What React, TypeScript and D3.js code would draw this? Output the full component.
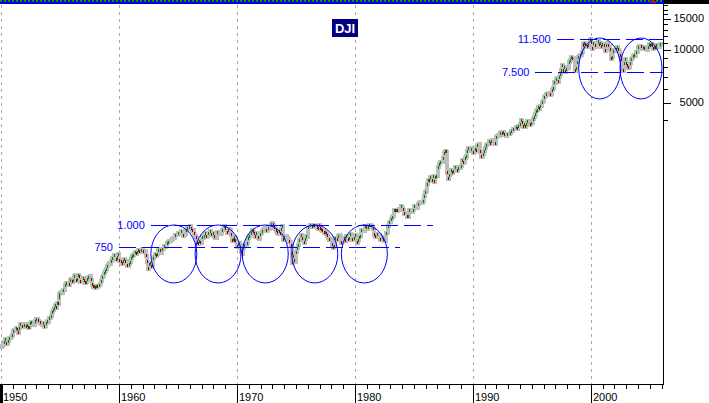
import React from "react";
import * as d3 from "d3";

// Monthly closes of the Dow Jones Industrial Average, by decade (Jan..Dec per year)
const dji1950s: number[][] = [
  [201.8, 203.4, 206.1, 214.3, 223.4, 209.1, 209.4, 216.9, 226.4, 225.0, 227.6, 235.4],
  [248.8, 252.1, 247.9, 259.1, 250.6, 242.6, 257.9, 270.3, 271.2, 262.4, 261.3, 269.2],
  [270.7, 260.1, 269.5, 257.6, 262.9, 274.3, 279.6, 275.0, 270.6, 269.2, 283.7, 291.9],
  [289.8, 284.3, 279.9, 274.8, 272.3, 268.3, 275.4, 261.2, 264.0, 276.3, 281.4, 280.9],
  [292.4, 294.5, 303.5, 319.3, 327.5, 333.5, 347.9, 335.8, 360.5, 352.1, 386.8, 404.4],
  [408.8, 411.9, 409.7, 425.7, 424.9, 451.4, 465.9, 468.2, 466.6, 454.9, 483.3, 488.4],
  [470.7, 483.7, 511.8, 516.1, 478.1, 492.8, 517.8, 502.0, 475.3, 479.9, 472.8, 499.5],
  [479.2, 464.6, 474.5, 494.4, 504.9, 503.3, 508.5, 484.4, 456.3, 441.0, 449.9, 435.7],
  [450.0, 439.9, 446.8, 455.9, 462.7, 478.2, 502.0, 508.6, 532.1, 543.2, 557.5, 583.7],
  [594.0, 603.5, 601.7, 623.8, 643.8, 643.6, 674.9, 664.4, 631.7, 646.6, 659.2, 679.4],
];
const dji1960s: number[][] = [
  [622.6, 630.1, 616.6, 601.7, 625.5, 640.6, 616.7, 626.0, 580.1, 580.4, 597.2, 615.9],
  [648.2, 662.1, 676.6, 678.7, 696.7, 684.0, 705.4, 719.9, 701.2, 703.9, 721.6, 731.1],
  [700.0, 708.1, 707.0, 665.3, 613.4, 561.3, 597.9, 609.2, 579.0, 589.8, 649.3, 652.1],
  [682.9, 662.9, 682.5, 717.7, 727.0, 706.9, 695.4, 729.3, 732.8, 755.2, 750.5, 763.0],
  [785.3, 800.1, 813.3, 810.8, 820.6, 831.5, 841.1, 838.5, 875.4, 873.1, 875.4, 874.1],
  [902.9, 903.5, 889.1, 922.3, 918.0, 868.0, 881.7, 893.1, 930.6, 960.8, 946.7, 969.3],
  [983.5, 951.9, 924.8, 933.7, 884.1, 870.1, 847.4, 788.4, 774.2, 807.1, 791.6, 785.7],
  [849.9, 839.4, 866.0, 897.1, 852.6, 860.3, 904.2, 901.3, 926.7, 879.7, 875.8, 905.1],
  [855.5, 840.5, 840.7, 912.2, 899.0, 897.8, 883.0, 896.0, 935.8, 952.4, 985.1, 943.8],
  [946.1, 905.2, 935.5, 950.2, 937.6, 873.2, 815.5, 836.7, 813.1, 856.0, 812.3, 800.4],
];
const dji1970s: number[][] = [
  [744.1, 777.6, 785.6, 736.1, 700.4, 683.5, 734.1, 764.6, 760.7, 755.6, 794.1, 838.9],
  [868.5, 878.8, 904.4, 941.8, 907.8, 891.1, 858.4, 898.1, 887.2, 839.0, 831.3, 890.2],
  [902.2, 928.1, 940.7, 954.2, 960.7, 929.0, 924.7, 963.7, 953.3, 955.5, 1018.2, 1020.0],
  [999.0, 955.1, 951.0, 921.4, 901.4, 891.7, 926.4, 887.6, 947.1, 987.1, 822.3, 850.9],
  [855.6, 860.5, 846.7, 836.8, 802.2, 802.4, 757.4, 678.6, 607.9, 665.5, 618.7, 616.2],
  [703.7, 739.1, 768.2, 821.3, 832.3, 879.0, 831.5, 835.3, 793.9, 836.0, 860.7, 852.4],
  [975.3, 972.6, 999.5, 996.9, 975.2, 1002.8, 984.6, 973.7, 990.2, 964.9, 947.2, 1004.7],
  [954.4, 936.4, 919.1, 926.9, 898.7, 916.3, 890.1, 861.5, 847.1, 818.4, 829.7, 831.2],
  [769.9, 742.1, 757.4, 837.3, 840.6, 819.0, 862.3, 876.8, 865.8, 792.5, 799.0, 805.0],
  [839.2, 808.8, 862.2, 854.9, 822.3, 842.0, 846.4, 887.6, 878.6, 815.7, 822.4, 838.7],
];
const dji1980s: number[][] = [
  [875.9, 863.1, 785.8, 817.1, 850.9, 867.9, 935.3, 932.6, 932.4, 924.5, 993.3, 964.0],
  [947.3, 974.6, 1003.9, 997.8, 991.8, 976.9, 952.3, 881.5, 850.0, 853.2, 889.0, 875.0],
  [871.1, 824.4, 822.8, 848.4, 819.5, 811.9, 808.6, 901.3, 896.3, 991.7, 1039.3, 1046.5],
  [1075.7, 1112.6, 1130.0, 1226.2, 1200.0, 1222.0, 1199.2, 1216.2, 1233.1, 1225.2, 1276.0, 1258.6],
  [1220.6, 1154.6, 1164.9, 1170.8, 1104.9, 1132.4, 1115.3, 1224.4, 1206.7, 1207.4, 1188.9, 1211.6],
  [1286.8, 1284.0, 1266.8, 1258.1, 1315.4, 1335.5, 1347.5, 1334.0, 1328.6, 1374.3, 1472.1, 1546.7],
  [1571.0, 1709.1, 1818.6, 1784.0, 1876.7, 1892.7, 1775.3, 1898.3, 1767.6, 1877.8, 1914.2, 1896.0],
  [2158.0, 2224.0, 2304.7, 2286.4, 2291.6, 2418.5, 2572.1, 2663.0, 2596.3, 1993.5, 1833.6, 1938.8],
  [1958.2, 2071.6, 1988.1, 2032.3, 2031.1, 2141.7, 2128.7, 2031.7, 2112.9, 2148.7, 2114.5, 2168.6],
  [2342.3, 2258.4, 2293.6, 2418.8, 2480.2, 2440.1, 2660.7, 2737.3, 2692.8, 2645.1, 2706.3, 2753.2],
];
const dji1990s: number[][] = [
  [2590.5, 2627.3, 2707.2, 2656.8, 2876.7, 2880.7, 2905.2, 2614.4, 2452.5, 2442.3, 2559.7, 2633.7],
  [2736.4, 2882.2, 2913.9, 2887.9, 3027.5, 2906.8, 3024.8, 3043.6, 3016.8, 3069.1, 2894.7, 3168.8],
  [3223.4, 3267.7, 3235.5, 3359.1, 3396.9, 3318.5, 3393.8, 3257.4, 3271.7, 3226.3, 3305.2, 3301.1],
  [3310.0, 3370.8, 3435.1, 3427.6, 3527.4, 3516.1, 3539.5, 3651.3, 3555.1, 3680.6, 3684.0, 3754.1],
  [3978.4, 3832.0, 3636.0, 3681.7, 3758.4, 3625.0, 3764.5, 3913.4, 3843.2, 3908.1, 3739.2, 3834.4],
  [3843.9, 4011.1, 4157.7, 4321.3, 4465.1, 4556.1, 4708.5, 4610.6, 4789.1, 4755.5, 5074.5, 5117.1],
  [5395.3, 5485.6, 5587.1, 5569.1, 5643.2, 5654.6, 5528.9, 5616.2, 5882.2, 6029.4, 6521.7, 6448.3],
  [6813.1, 6877.7, 6583.5, 7009.0, 7331.0, 7672.8, 8222.6, 7622.4, 7945.3, 7442.1, 7823.1, 7908.3],
  [7906.5, 8545.7, 8799.8, 9063.4, 8900.0, 8952.0, 8883.3, 7539.1, 7842.6, 8592.1, 9116.6, 9181.4],
  [9358.8, 9306.6, 9786.2, 10789.0, 10559.7, 10970.8, 10655.2, 10829.3, 10337.0, 10729.9, 10877.8, 11497.1],
];
const dji2000s: number[][] = [
  [10940.5, 10128.3, 10921.9, 10733.9, 10522.3, 10447.9, 10522.0, 11215.1, 10650.9, 10971.1, 10414.5, 10786.9],
  [10887.4, 10495.3, 9878.8, 10735.0, 10911.9, 10502.4, 10522.8, 9949.8, 8847.6, 9075.1, 9851.6, 10021.5],
  [9920.0, 10106.1, 10403.9, 9946.2, 9925.3, 9243.3, 8736.6, 8663.5, 7591.9, 8397.0, 8896.1, 8341.6],
  [8053.8, 7891.1, 7992.1, 8480.1, 8850.3, 8985.4, 9233.8, 9415.8, 9275.1, 9801.1, 9782.5, 10453.9],
  [10488.1, 10583.9, 10357.7, 10225.6, 10188.5, 10435.5, 10139.7, 10173.9, 10080.3, 10027.5, 10428.0, 10783.0],
  [10489.9, 10766.2, 10503.8, 10192.5, 10467.5, 10275.0, 10640.9, 10481.6, 10568.7, 10440.1, 10805.9, 10717.5],
];

const startYear = 1950;
const decadeTicks = [1950, 1960, 1970, 1980, 1990, 2000];
const priceTicks = [4000, 5000, 6000, 7000, 8000, 9000, 10000, 11000, 12000, 13000, 14000, 15000, 16000, 17000, 18000];
const priceLabels = [5000, 10000, 15000];

// Support / resistance annotations
const levelValues = [1000, 750, 11500, 7500];
const levelLabels = ["1.000", "750", "11.500", "7.500"];
const levelFrom = [1962.7, 1960.0, 1997.1, 1995.3];
const levelTo = [1986.6, 1983.8, 2006.2, 2006.2];

// Circles marking the trading range
const circleYearsLow = [1964.65, 1968.4, 1972.4, 1976.6, 1980.8];
const circleValueLow = 683;
const circleYearsHigh = [2000.75, 2004.25];
const circleValueHigh = 7840;

const W = 709;
const H = 403;
const plotLeft = 1;
const plotRight = 664;
const plotTop = 4;
const plotBottom = 384;

export default function App() {
  const x = d3.scaleLinear().domain([startYear, 2006.2]).range([plotLeft, plotRight]);
  const y = d3.scaleLog().domain([100, 10000]).range([400, 50]);

  const all: number[] = [
    ...dji1950s.flat(),
    ...dji1960s.flat(),
    ...dji1970s.flat(),
    ...dji1980s.flat(),
    ...dji1990s.flat(),
    ...dji2000s.flat(),
  ];
  const bars = all.map((c, i) => {
    const p = i === 0 ? c : all[i - 1];
    const t = startYear + (i + 0.5) / 12;
    return { t, c, p };
  });

  const years = d3.range(1951, 2007).filter((yr) => !decadeTicks.includes(yr));
  const font = "'Liberation Sans', Arial, sans-serif";

  return (
    <svg
      width={W}
      height={H}
      style={{ position: "absolute", left: 0, top: 0, background: "#fff" }}
      shapeRendering="crispEdges"
    >
      <rect x={0} y={0} width={W} height={H} fill="#fff" />
      {/* top strip */}
      <rect x={0} y={0} width={plotRight} height={4} fill="#0000e0" />
      <line x1={0} x2={plotRight} y1={1} y2={1} stroke="#00a000" strokeWidth={2} strokeDasharray="2,2" />
      <rect x={plotRight} y={0} width={W - plotRight} height={4} fill="#000" />
      <rect x={650} y={1} width={6} height={2} fill="#e00000" />

      {/* vertical dashed grid */}
      {decadeTicks.map((d) => (
        <line
          key={"g" + d}
          x1={Math.round(x(d)) + 0.5}
          x2={Math.round(x(d)) + 0.5}
          y1={plotTop + 1}
          y2={plotBottom}
          stroke="#a8a8a8"
          strokeDasharray="3,4"
        />
      ))}

      {/* price bars */}
      <g>
        {bars.map((b, i) => {
          const y1 = y(Math.max(b.c, b.p)) - 2;
          const y2 = y(Math.min(b.c, b.p)) + 2;
          return (
            <rect
              key={"b" + i}
              x={Math.round(x(b.t)) - 2}
              y={y1}
              width={4}
              height={Math.max(4, y2 - y1)}
              fill="#bdbdbd"
            />
          );
        })}
        {bars.map((b, i) => {
          const ch = b.c / b.p;
          if (ch < 1.018 && ch > 0.982) return null;
          const up = ch > 1;
          const yc = y(b.c);
          return (
            <rect
              key={"m" + i}
              x={Math.round(x(b.t))}
              y={up ? yc - 1 : yc - 2}
              width={1}
              height={3}
              fill={up ? "#008000" : "#900000"}
            />
          );
        })}
      </g>

      {/* level lines */}
      {levelValues.map((v, i) => (
        <g key={"l" + i}>
          <line
            x1={x(levelFrom[i])}
            x2={Math.min(x(levelTo[i]), plotRight)}
            y1={Math.round(y(v)) + 0.5}
            y2={Math.round(y(v)) + 0.5}
            stroke="#0000ff"
            strokeWidth={1}
            strokeDasharray="17,6"
          />
          <text
            x={x(levelFrom[i]) - 6}
            y={y(v)}
            dy="0.35em"
            textAnchor="end"
            fill="#0000ff"
            fontFamily={font}
            fontSize={11}
          >
            {levelLabels[i]}
          </text>
        </g>
      ))}

      {/* circles */}
      <g fill="none" stroke="#0000ff" strokeWidth={1} shapeRendering="auto">
        {circleYearsLow.map((c, i) => (
          <ellipse key={"cl" + i} cx={x(c)} cy={y(circleValueLow)} rx={23} ry={29} />
        ))}
        {circleYearsHigh.map((c, i) => (
          <ellipse key={"ch" + i} cx={x(c)} cy={y(circleValueHigh)} rx={21} ry={30.5} />
        ))}
      </g>

      {/* title */}
      <rect x={332} y={19} width={26} height={18} fill="#000080" />
      <text x={345} y={28} dy="0.36em" textAnchor="middle" fill="#fff" fontFamily={font} fontWeight="bold" fontSize={13}>
        DJI
      </text>

      {/* right axis */}
      <line x1={plotRight - 0.5} x2={plotRight - 0.5} y1={plotTop} y2={plotBottom + 1} stroke="#000" />
      {priceTicks
        .filter((v) => y(v) >= plotTop && y(v) <= plotBottom)
        .map((v) => {
          const major = priceLabels.includes(v);
          return (
            <line
              key={"pt" + v}
              x1={plotRight}
              x2={plotRight + (major ? 7 : 4)}
              y1={Math.round(y(v)) + 0.5}
              y2={Math.round(y(v)) + 0.5}
              stroke="#000"
            />
          );
        })}
      {priceLabels.map((v) => (
        <text key={"pl" + v} x={704} y={y(v) - 1} dy="0.35em" textAnchor="end" fill="#000" fontFamily={font} fontSize={11}>
          {v}
        </text>
      ))}

      {/* bottom axis */}
      <line x1={0} x2={plotRight} y1={plotBottom + 0.5} y2={plotBottom + 0.5} stroke="#000" />
      {years
        .filter((yr) => x(yr) < plotRight)
        .map((yr) => (
          <line
            key={"yt" + yr}
            x1={Math.round(x(yr)) + 0.5}
            x2={Math.round(x(yr)) + 0.5}
            y1={plotBottom}
            y2={plotBottom + 5}
            stroke="#000"
          />
        ))}
      {decadeTicks.map((d) => (
        <g key={"dt" + d}>
          <line
            x1={Math.round(x(d)) + 0.5}
            x2={Math.round(x(d)) + 0.5}
            y1={plotBottom}
            y2={H}
            stroke="#000"
            strokeWidth={d === startYear ? 3 : 1}
          />
          <text x={Math.round(x(d)) + 2} y={397} dy="0.35em" fill="#000" fontFamily={font} fontSize={11}>
            {d}
          </text>
        </g>
      ))}
    </svg>
  );
}
